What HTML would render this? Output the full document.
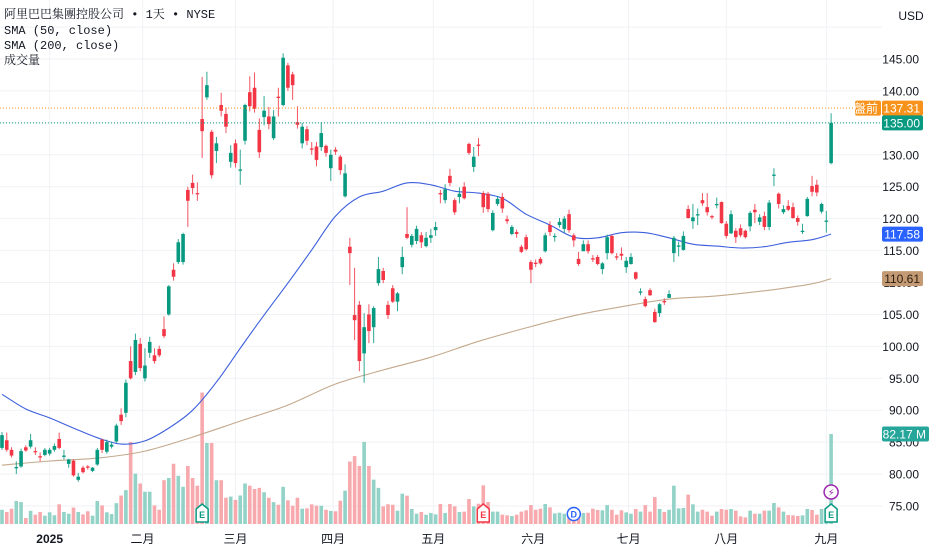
<!DOCTYPE html>
<html><head><meta charset="utf-8">
<style>
html,body{margin:0;padding:0;background:#fff;}
#wrap{position:relative;width:932px;height:550px;overflow:hidden;background:#fff;}
svg{position:absolute;left:0;top:0;}
.lg{position:absolute;left:4px;font-family:"Liberation Mono","Noto Serif CJK SC",monospace;font-size:12px;color:#131722;white-space:nowrap;line-height:15px;}
</style></head><body>
<div id="wrap">
<svg id="chart" width="932" height="550"></svg>
<div class="lg" style="top:8px">阿里巴巴集團控股公司 • 1天 • NYSE</div>
<div class="lg" style="top:24px">SMA (50, close)</div>
<div class="lg" style="top:39px">SMA (200, close)</div>
<div class="lg" style="top:54px">成交量</div>
</div>
<script>
const opens=[84.1,85.3,83.8,80.9,81.2,84.2,84.3,83.6,82.8,83,83.2,83.8,85.5,82.7,81.6,82.1,79.1,81,81.2,80.5,81.5,85.4,83.5,84.3,85.1,89.3,89.6,97.7,96,100.4,95,99,98.6,99.6,102.7,105,112,113.2,113.2,124.5,125.6,124,135.6,139,133.6,130.6,137.8,136.4,128.9,131.8,127.5,132.2,139.8,140.5,133.9,135.9,136,132.6,139.1,137.8,144,142.6,135.1,131.8,134,131,131.3,131.2,131.4,127.9,130.8,129.7,123.5,115.6,104.9,106.5,98.9,105,103,109.9,111.8,106.5,109.1,107,112.4,117.6,115.9,116.5,117.4,115.7,117,118.2,124,122.9,126.7,122.9,123.4,125,131.7,128.1,131.6,124,123.9,118.2,122.3,123.4,119.9,117.6,117.9,115.6,117.1,113.2,113.1,113.7,114.9,119,117.1,119,118.4,120.7,117.4,113.7,114.9,116,113.8,114,112.1,114.6,117.3,114.1,114.5,112.4,112.9,111.6,108.4,107.4,108.8,105.4,105.2,107.1,107.6,114.6,115.6,115.1,121.5,119.6,120.5,122.9,121.8,120.4,122.1,122.6,119.2,117.7,118.1,118.5,118.1,118.8,121.4,119.5,120.4,118.7,126.7,123.9,121,122,121.8,120.1,117.9,120.4,125.1,125.3,121.1,119.5,128.7];
const closes=[86.1,83.8,82.9,81.1,83.6,83.7,85.3,83.5,82.6,83.8,83.8,84.4,84.1,82.9,82.3,79.8,79.6,80.3,81,81,83.8,83.8,85,84.6,87.6,88.3,94.3,95,101,96.6,97,100.7,97.7,98.6,101.6,109.4,110.9,116.3,117.6,122.8,124.8,123.9,133.7,140.9,126.8,131.8,136.9,134.4,130.3,128.7,127.7,137.8,137.6,137.2,130.4,136.9,134.8,136,138.9,145.2,140.5,140.9,134.7,134.4,132.2,130.8,129.2,133.4,130.3,130,130.5,127.6,127.1,114.6,104.1,97.7,103,102.4,106,112.1,110.4,104.9,107,108.3,114,117,117.3,118.4,116.3,117,117.4,118.7,123.8,124.6,125.6,121,123.9,123.2,130.3,129.7,131.4,121.8,121.5,120.9,123.1,121.6,119.6,118.7,117.6,114.8,115.2,112,112.9,113,117.4,117.9,117.3,119.5,120,118.2,116.6,112.9,116,114.9,113.6,112.9,113,117.1,114.6,113.9,114.2,113.4,114,110.6,108.6,106.3,108,103.8,106.6,106.9,108.2,117,115.8,117.3,120.1,120.2,120.7,122.4,121,120.2,122.3,119.3,117.3,120.7,117.1,117.4,117.1,120.9,121,120.2,118.7,122.5,126.9,122.3,121.5,121.4,120.1,119.5,118.1,123.1,124.2,124.1,122.3,119.7,135];
const highs=[86.6,86.5,84.2,82,84,84.5,86.3,84.2,83.4,84.1,84.1,84.8,86.5,83.8,82.4,82.3,80.2,81.3,81.4,81.1,84.1,85.5,85.4,85.1,87.9,90.3,94.8,100,102,101.3,99.7,101.5,99.7,100.1,104.7,109.6,113,116.8,117.8,125,126.9,125.7,142.2,143,133.9,132.8,139.7,137.4,131.5,132.4,130.8,138,142.3,142.9,135.7,139.2,137.5,137,140.5,145.9,144.4,143,137.6,135,134.5,132,132,135.1,131.6,130.8,131.2,130,128.5,117,112.3,107.1,105.2,106.6,106.3,114,112.3,107.1,109.6,108.5,115.6,121.8,117.6,118.9,117.9,117.9,118.4,119.5,124.5,125.4,127.8,123.2,124.9,125.7,131.9,131.2,132.6,124.3,124.2,121.3,123.5,124,120.5,119,118.3,115.9,117.5,113.5,113.6,114,117.8,119.6,117.7,120.1,120.4,121.4,117.7,114.8,116.6,116.6,114.3,114.3,113.2,117.5,117.5,114.6,115.5,114,114.6,111.7,109.1,107.8,109.1,105.9,106.8,107.5,108.8,117.3,116.4,118,122.1,122.3,121.6,124,124,120.6,123.3,122.7,119.6,121.3,118.5,119.1,118.3,121.2,122.3,120.7,121.1,122.9,127.9,124.1,122.1,122.9,122.5,120.5,119.2,123.4,126.7,126.1,122.5,121.2,136.5];
const lows=[83.8,83.5,82.6,80,81,83.5,84,83,82,82.8,82.9,83.5,83.9,82.3,81,79.6,78.8,80.1,80.7,80.3,81.3,83.3,83.2,84,84.9,87.7,88.9,94.8,95.5,96.1,94.5,98.2,97.3,98.3,101.3,104.8,110.3,112.9,112.8,118.7,123.8,122.8,129.5,138.6,126.3,128.7,136,133.4,128,128,125.3,131.6,136.8,136.6,129.5,134.6,134,132.3,136,137.6,140,138.6,134.1,131,131.5,130,128.2,130.6,129.7,125.9,130,126.9,123.3,109.6,101,96.1,94.3,100.5,100.5,109.5,109.9,104.3,106.8,105.5,111.3,116.8,115.5,116,115.4,115.5,116.2,117.3,122.4,122.4,125.1,120.6,122.4,123,130,127.3,129.8,120.9,121,118,122,120.9,119.2,117.4,117,114.6,115,109.9,112.4,112.8,114.7,117.3,116.4,118.6,117.8,117.8,115.6,112.6,114.9,114.5,113.2,112.7,111.3,113.6,114.4,113.5,113.5,111.5,112.8,110.4,108,106.1,107.9,103.7,104.6,106.5,107.6,113.2,114.1,115,120,118.4,119,122,120.5,119.9,121.6,119.2,116.9,117.6,116.2,117.1,116.9,118,119.3,119,118.2,118.2,125.1,121.6,120.7,121.2,120,118.9,117.6,120.3,123.5,123.5,120.8,117.8,128.5];
const volumes=[13,11,14,21,20,5.5,12,8.5,11,7.6,10.7,8,18,11,9.4,15,11,8.8,11.6,7.6,21,17,10.7,9.1,19,26,31,75,46,37,29.5,29.5,17,13,40,42,55,44,34,53,42,35,120,74,74,40,40,24,25,22,26,37,35,32,33,29,24,20,17.6,34,21.6,16.7,24,14,14.3,18,16.7,16.7,13,11.9,11.6,21.3,30.4,57,62,53,75,53,40.5,33,16,18,17.6,12.2,27.7,25.9,13.7,9.4,11,8.5,10,8.8,18.3,10,18.3,16.1,11,11.3,22.8,16.1,18.5,35.3,20,11.3,11.3,8.5,7.9,7.3,8.5,11.3,12.5,17.3,13,14,18.3,15.2,9.7,10.3,9.4,8.5,7,7,10,10.3,14,12.8,12.5,17.3,13,8.5,12.5,10.6,9.4,13.7,11.3,17.3,11.3,24.6,13.7,11,13,35,14.3,14.6,26.8,18,11.3,13,11.3,7.6,11.3,13.7,13,13.7,12.2,7,6,12.2,9.4,9.4,12.2,12.2,19.2,15.2,11.3,8.2,7.9,7.3,7.9,13.7,12.8,8.5,13.7,13,82.17];
const sma50Step=5;
const sma50=[92.5,90.2,88.8,87.2,85.7,84.7,85.2,87.2,90,94.4,99.7,104.9,109.9,115.1,120.4,123.4,124.3,125.6,125.3,124.3,124,123.2,120.7,119,117.1,117,117.8,117.8,117,116,115.7,115.4,115.6,116.3,116.7,117.58];
const sma200Step=10;
const sma200=[81.4,82.05,82.5,83.6,85.8,88.3,90.8,94.1,96.3,98.3,100.8,102.9,104.8,106.2,107.4,107.9,108.7,109.8,110.61];
const priceTicks=[145,140,135,130,125,120,115,110,105,100,95,90,85,80,75];
const monthLabels=["2025","二月","三月","四月","五月","六月","七月","八月","九月"];
const monthIdx=[10,29.5,49,69.5,90.5,111.5,131.5,152,173];
const lastClose=135.00, preMarket=137.31, lastVolume=82.17;

const NS="http://www.w3.org/2000/svg";
const svg=document.getElementById('chart');
const PLOT_R=882;
const xOf=i=>2+i*4.765;
const yP=p=>59+(145-p)*6.386;
const yV=v=>524-v*1.095;
function mk(tag,attrs,parent){const e=document.createElementNS(NS,tag);for(const k in attrs)e.setAttribute(k,attrs[k]);(parent||svg).appendChild(e);return e;}

// grid
const grid=mk('g',{});


priceTicks.concat([150]).forEach(p=>{const l=mk('line',{x1:0,x2:PLOT_R,y1:yP(p),y2:yP(p),stroke:'#f0f2f5','stroke-width':1},grid);

});
monthIdx.forEach(m=>{const l=mk('line',{x1:xOf(m),x2:xOf(m),y1:0,y2:526,stroke:'#f0f2f5','stroke-width':1},grid);

});

const up=(i)=>closes[i]>=opens[i];
// volume
const vg=mk('g',{});


volumes.forEach((v,i)=>{const r=mk('rect',{x:xOf(i)-1.8,y:yV(v),width:3.6,height:524-yV(v),fill:up(i)?'#92d2c7':'#f7a9ad'},vg);

});

function line(arr,step,color,name){
const pts=arr.map((v,k)=>[xOf(Math.min(k*step,closes.length-1)),yP(v)]);
let d='M'+pts[0][0].toFixed(1)+' '+pts[0][1].toFixed(1);
for(let k=0;k<pts.length-1;k++){const p0=pts[Math.max(0,k-1)],p1=pts[k],p2=pts[k+1],p3=pts[Math.min(pts.length-1,k+2)];
const c1x=p1[0]+(p2[0]-p0[0])/6,c1y=p1[1]+(p2[1]-p0[1])/6,c2x=p2[0]-(p3[0]-p1[0])/6,c2y=p2[1]-(p3[1]-p1[1])/6;
d+=` C${c1x.toFixed(1)} ${c1y.toFixed(1)} ${c2x.toFixed(1)} ${c2y.toFixed(1)} ${p2[0].toFixed(1)} ${p2[1].toFixed(1)}`;}
const p=mk('path',{d:d,fill:'none',stroke:color,'stroke-width':1.1,'stroke-linejoin':'round'});

}
line(sma200,sma200Step,'#c4a98c','sma200-line');
line(sma50,sma50Step,'#3c5fdc','sma50-line');

// candles
const cg=mk('g',{});


opens.forEach((o,i)=>{const c=closes[i];const col=up(i)?'#089981':'#f23645';const x=xOf(i);
const g=mk('g',{},cg);


mk('line',{x1:x,x2:x,y1:yP(highs[i]),y2:yP(lows[i]),stroke:col,'stroke-width':1,opacity:0.85},g);
const t=yP(Math.max(o,c)),b=yP(Math.min(o,c));
mk('rect',{x:x-1.8,y:t,width:3.6,height:Math.max(1.2,b-t),fill:col},g);});

// price lines
const pl1=mk('line',{x1:0,x2:PLOT_R,y1:yP(preMarket),y2:yP(preMarket),stroke:'#f7931a','stroke-width':1,'stroke-dasharray':'1 2'});


const pl2=mk('line',{x1:0,x2:PLOT_R,y1:yP(lastClose),y2:yP(lastClose),stroke:'#089981','stroke-width':1,'stroke-dasharray':'1 2'});



// axis labels
const ax=mk('g',{});


priceTicks.forEach(p=>{const t=mk('text',{x:919,y:yP(p)+4.5,'text-anchor':'end','font-family':'Liberation Sans, sans-serif','font-size':12,fill:'#131722'},ax);t.textContent=p.toFixed(2);

});
const usd=mk('text',{x:911,y:20,'text-anchor':'middle','font-family':'Liberation Sans, sans-serif','font-size':12,fill:'#131722'});usd.textContent='USD';



function tag(val,txt,bg,fg,x,w,name){const y=yP(val);const g=mk('g',{});


mk('rect',{x:x,y:y-7.5,width:w,height:15,rx:2,fill:bg},g);
const t=mk('text',{x:x+w-3,y:y+4.5,'text-anchor':'end','font-family':'Liberation Sans, Noto Sans CJK TC, sans-serif','font-size':12,fill:fg},g);t.textContent=txt;return g;}
tag(preMarket,'盤前','#f7931a','#fff',855,26,'premarket-badge');
tag(preMarket,preMarket.toFixed(2),'#f7931a','#fff',882,41,'premarket-price-tag');
tag(lastClose,lastClose.toFixed(2),'#089981','#fff',882,41,'last-price-tag');
tag(sma50[sma50.length-1],sma50[sma50.length-1].toFixed(2),'#2962ff','#fff',882,41,'sma50-value-tag');
tag(sma200[sma200.length-1],sma200[sma200.length-1].toFixed(2),'#c49a74','#2a1d10',882,41,'sma200-value-tag');
(function(){const y=yV(lastVolume);const g=mk('g',{});


mk('rect',{x:882,y:y-7.5,width:47,height:15,rx:2,fill:'#26a69a'},g);
const t=mk('text',{x:926,y:y+4.5,'text-anchor':'end','font-family':'Liberation Sans, sans-serif','font-size':12,fill:'#fff'},g);t.textContent=lastVolume.toFixed(2)+' M';})();

// time axis
monthLabels.forEach((m,k)=>{const t=mk('text',{x:xOf(monthIdx[k]),y:543,'text-anchor':'middle','font-family':'Liberation Sans, Noto Sans CJK TC, sans-serif','font-size':12,'font-weight':k===0?'bold':'normal',fill:'#131722'});t.textContent=m;

});

// event markers
function eMark(i,col,name){const x=xOf(i);const g=mk('g',{});


mk('path',{d:`M${x-6} 509 L${x} 504 L${x+6} 509 L${x+6} 522 L${x-6} 522 Z`,fill:'#fff',stroke:col,'stroke-width':1.5},g);
const t=mk('text',{x:x,y:518,'text-anchor':'middle','font-family':'Liberation Sans, sans-serif','font-size':9,'font-weight':'bold',fill:col},g);t.textContent='E';}
eMark(42,'#089981','earnings-marker-feb');
eMark(101,'#f23645','earnings-marker-may');
eMark(174,'#089981','earnings-marker-aug');
(function(){const x=xOf(120);const g=mk('g',{});


mk('circle',{cx:x,cy:514,r:6.5,fill:'#fff',stroke:'#2962ff','stroke-width':1.5},g);
const t=mk('text',{x:x,y:517.5,'text-anchor':'middle','font-family':'Liberation Sans, sans-serif','font-size':9,'font-weight':'bold',fill:'#2962ff'},g);t.textContent='D';})();
(function(){const x=xOf(174);const g=mk('g',{});


mk('circle',{cx:x,cy:492,r:7,fill:'#fff',stroke:'#9c27b0','stroke-width':1.5},g);
const t=mk('text',{x:x,y:496,'text-anchor':'middle','font-family':'DejaVu Sans, sans-serif','font-size':10,fill:'#9c27b0'},g);t.textContent='⚡';})();
</script>
</body></html>
